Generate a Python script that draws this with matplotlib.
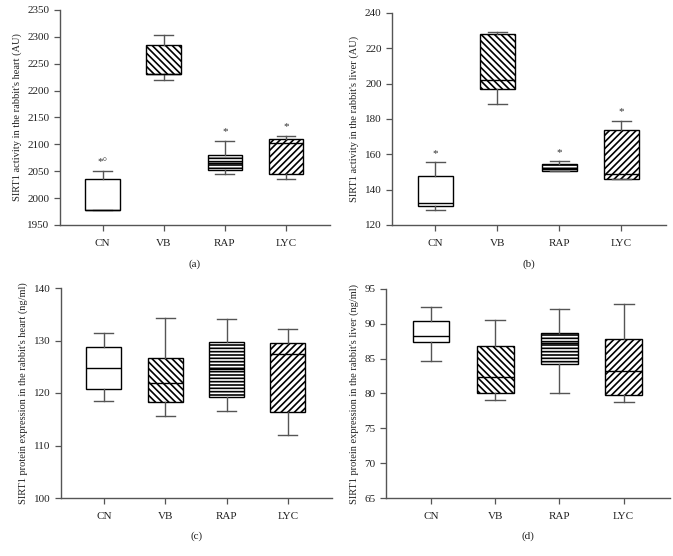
import matplotlib
matplotlib.use("Agg")
import matplotlib.pyplot as plt

# Groups shared by all four panels
groups = ["CN", "VB", "RAP", "LYC"]
hatches = ["", "\\\\\\\\\\", "-----", "/////"]

# Box statistics: (whislo, q1, med, q3, whishi)
heart_activity = [
    (1978, 1978, 1978, 2035, 2050),
    (2219, 2230, 2231, 2284, 2303),
    (2044, 2052, 2065, 2080, 2107),
    (2036, 2045, 2102, 2110, 2116),
]
liver_activity = [
    (128.5, 130.8, 132.3, 147.5, 155.7),
    (188.5, 197.0, 202.1, 228.1, 229.2),
    (150.6, 150.7, 151.5, 154.5, 156.1),
    (146.0, 146.0, 148.9, 173.6, 179.0),
]
heart_protein = [
    (118.4, 120.7, 124.7, 128.8, 131.5),
    (115.6, 118.2, 122.0, 126.6, 134.2),
    (116.6, 119.3, 124.5, 129.8, 134.1),
    (112.0, 116.3, 127.5, 129.5, 132.2),
]
liver_protein = [
    (84.7, 87.4, 88.3, 90.4, 92.4),
    (79.1, 80.0, 82.3, 86.8, 90.6),
    (80.0, 84.3, 87.2, 88.7, 92.1),
    (78.8, 79.8, 83.3, 87.8, 92.9),
]

# Significance marks above the upper whiskers
heart_activity_marks = ["*°", "", "*", "*"]
liver_activity_marks = ["*", "", "*", "*"]

plt.rcParams["font.family"] = ["Liberation Serif", "DejaVu Serif"]
plt.rcParams["hatch.linewidth"] = 1.2

GRAY = "#555555"


def draw_panel(ax, stats, ylim, yticks, ylabel, letter, marks=None):
    data = []
    for (lo, q1, med, q3, hi), name in zip(stats, groups):
        data.append(dict(whislo=lo, q1=q1, med=med, q3=q3, whishi=hi,
                         label=name, fliers=[]))
    pos = list(range(1, len(groups) + 1))
    bp = ax.bxp(data, positions=pos, widths=0.57, capwidths=0.31,
                patch_artist=True, showfliers=False,
                boxprops=dict(edgecolor="black", linewidth=1.0),
                medianprops=dict(color="black", linewidth=1.0),
                whiskerprops=dict(color=GRAY, linewidth=1.0),
                capprops=dict(color=GRAY, linewidth=1.0))
    for box, h in zip(bp["boxes"], hatches):
        box.set_facecolor("white")
        box.set_hatch(h)

    if marks:
        span = ylim[1] - ylim[0]
        for x, (st, m) in zip(pos, zip(stats, marks)):
            if m:
                ax.text(x, st[4] + span * 0.02, m, ha="center", va="bottom",
                        fontsize=8, color="#333333")

    ax.set_xlim(0.3, 4.72)
    ax.set_ylim(*ylim)
    ax.set_yticks(yticks)
    ax.set_xticks(pos)
    ax.set_xticklabels(groups)
    ax.set_ylabel(ylabel, fontsize=7.5, color="#222222", labelpad=4)
    ax.tick_params(direction="out", length=4, width=0.9, colors=GRAY,
                   labelcolor="#222222", labelsize=8)
    ax.tick_params(axis="x", pad=6)
    for side in ["top", "right"]:
        ax.spines[side].set_visible(False)
    for side in ["left", "bottom"]:
        ax.spines[side].set_color(GRAY)
        ax.spines[side].set_linewidth(1.0)
    ax.text(0.5, -0.16, letter, transform=ax.transAxes, ha="center",
            va="top", fontsize=8, color="#222222")


fig = plt.figure(figsize=(6.73, 5.56), dpi=100)
W, H = 673.0, 556.0
ax_a = fig.add_axes([60 / W, 1 - 225 / H, 270 / W, 215 / H])
ax_b = fig.add_axes([392 / W, 1 - 225 / H, 274 / W, 212 / H])
ax_c = fig.add_axes([61 / W, 1 - 498 / H, 271 / W, 210 / H])
ax_d = fig.add_axes([386 / W, 1 - 498 / H, 284 / W, 209 / H])

draw_panel(ax_a, heart_activity, (1950, 2350), range(1950, 2351, 50),
           "SIRT1 activity in the rabbit's heart (AU)", "(a)",
           heart_activity_marks)
draw_panel(ax_b, liver_activity, (120, 240), range(120, 241, 20),
           "SIRT1 activity in the rabbit's liver (AU)", "(b)",
           liver_activity_marks)
draw_panel(ax_c, heart_protein, (100, 140), range(100, 141, 10),
           "SIRT1 protein expression in the rabbit's heart (ng/ml)", "(c)")
draw_panel(ax_d, liver_protein, (65, 95), range(65, 96, 5),
           "SIRT1 protein expression in the rabbit's liver (ng/ml)", "(d)")

fig.savefig("out.png", dpi=100, facecolor="white")
